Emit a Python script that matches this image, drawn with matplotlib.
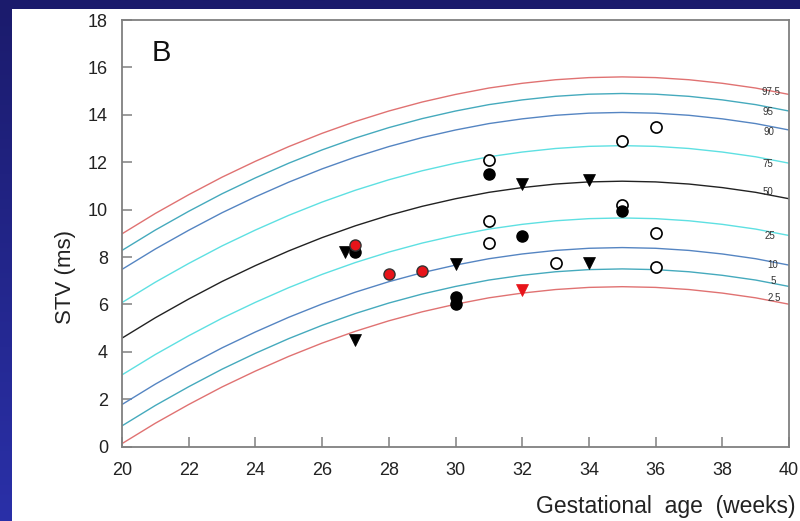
import numpy as np
import matplotlib
matplotlib.use("Agg")
import matplotlib.pyplot as plt
from matplotlib.patches import Rectangle
from matplotlib.colors import LinearSegmentedColormap

plt.rcParams['font.family'] = ['Liberation Sans', 'DejaVu Sans']

weeks = list(range(20, 41))
p975 = [8.98, 9.84, 10.63, 11.37, 12.04, 12.66, 13.22, 13.72, 14.16, 14.54, 14.86, 15.13, 15.33, 15.48, 15.57, 15.6, 15.57, 15.48, 15.33, 15.13, 14.86]
p95 = [8.28, 9.14, 9.93, 10.67, 11.34, 11.96, 12.52, 13.02, 13.46, 13.84, 14.16, 14.43, 14.63, 14.78, 14.87, 14.9, 14.87, 14.78, 14.63, 14.43, 14.16]
p90 = [7.48, 8.34, 9.13, 9.87, 10.54, 11.16, 11.72, 12.22, 12.66, 13.04, 13.36, 13.63, 13.83, 13.98, 14.07, 14.1, 14.07, 13.98, 13.83, 13.63, 13.36]
p75 = [6.08, 6.94, 7.73, 8.47, 9.14, 9.76, 10.32, 10.82, 11.26, 11.64, 11.96, 12.23, 12.43, 12.58, 12.67, 12.7, 12.67, 12.58, 12.43, 12.23, 11.96]
p50 = [4.58, 5.44, 6.23, 6.97, 7.64, 8.26, 8.82, 9.32, 9.76, 10.14, 10.46, 10.73, 10.93, 11.08, 11.17, 11.2, 11.17, 11.08, 10.93, 10.73, 10.46]
p25 = [3.03, 3.89, 4.68, 5.42, 6.09, 6.71, 7.27, 7.77, 8.21, 8.59, 8.91, 9.18, 9.38, 9.53, 9.62, 9.65, 9.62, 9.53, 9.38, 9.18, 8.91]
p10 = [1.78, 2.64, 3.43, 4.17, 4.84, 5.46, 6.02, 6.52, 6.96, 7.34, 7.66, 7.93, 8.13, 8.28, 8.37, 8.4, 8.37, 8.28, 8.13, 7.93, 7.66]
p5 = [0.88, 1.74, 2.53, 3.27, 3.94, 4.56, 5.12, 5.62, 6.06, 6.44, 6.76, 7.03, 7.23, 7.38, 7.47, 7.5, 7.47, 7.38, 7.23, 7.03, 6.76]
p25_low = [0.13, 0.99, 1.78, 2.52, 3.19, 3.81, 4.37, 4.87, 5.31, 5.69, 6.01, 6.28, 6.48, 6.63, 6.72, 6.75, 6.72, 6.63, 6.48, 6.28, 6.01]

pct_labels = ["97.5", "95", "90", "75", "50", "25", "10", "5", "2.5"]
label_x = [39.46, 39.37, 39.40, 39.37, 39.37, 39.43, 39.52, 39.52, 39.55]
label_y = [14.98, 14.14, 13.28, 11.92, 10.76, 8.90, 7.66, 6.99, 6.27]

open_x = [31, 35, 36, 31, 31, 35, 36, 33, 36]
open_y = [12.1, 12.9, 13.5, 9.5, 8.6, 10.2, 9.0, 7.75, 7.6]
filled_x = [31, 35, 32, 27, 30, 30]
filled_y = [11.5, 9.95, 8.9, 8.2, 6.3, 6.0]
red_x = [27, 28, 29]
red_y = [8.5, 7.3, 7.4]
tri_x = [26.7, 27, 30, 32, 34, 34]
tri_y = [8.2, 4.5, 7.7, 11.1, 11.25, 7.75]
redtri_x = [32]
redtri_y = [6.6]

W, H = 800, 521
fig = plt.figure(figsize=(W / 100, H / 100), dpi=100)

# background gradient
bg = fig.add_axes([0, 0, 1, 1])
bg.set_axis_off()
grad = np.linspace(0, 1, 256).reshape(-1, 1)
cmap = LinearSegmentedColormap.from_list("bgc", ["#1b1b6c", "#2a30a8"])
bg.imshow(grad, aspect='auto', cmap=cmap, extent=[0, 1, 0, 1], origin='upper')
bg.add_patch(Rectangle((12 / W, 0), 1, 1 - 9 / H, transform=bg.transAxes,
                       facecolor='white', edgecolor='none'))
bg.set_xlim(0, 1)
bg.set_ylim(0, 1)

ax = fig.add_axes([122 / W, 1 - 446.7 / H, (789 - 122) / W, (446.7 - 20) / H])
ax.set_facecolor('white')

red_c = '#e07272'
teal_c = '#45aabd'
blue_c = '#5585c2'
cyan_c = '#5ee0e2'
curves = [p975, p95, p90, p75, p50, p25, p10, p5, p25_low]
colors = [red_c, teal_c, blue_c, cyan_c, '#222222', cyan_c, blue_c, teal_c, red_c]
for vals, c in zip(curves, colors):
    ax.plot(weeks, vals, color=c, lw=1.0, zorder=2)

for lab, xx, yy in zip(pct_labels, label_x, label_y):
    ax.text(xx, yy, lab, fontsize=7, color='#333333', ha='center', va='center',
            zorder=3)

ms = 8
ax.plot(open_x, open_y, 'o', ms=ms, mfc='white', mec='black', mew=1.2, zorder=4, ls='none')
ax.plot(filled_x, filled_y, 'o', ms=ms, mfc='black', mec='black', mew=1.0, zorder=4, ls='none')
ax.plot(red_x, red_y, 'o', ms=ms, mfc='#e8141a', mec='#333333', mew=1.0, zorder=5, ls='none')
ax.plot(tri_x, tri_y, 'v', ms=ms, mfc='black', mec='black', mew=0.5, zorder=4, ls='none')
ax.plot(redtri_x, redtri_y, 'v', ms=ms, mfc='#e8141a', mec='#e8141a', mew=0.5, zorder=4, ls='none')

ax.set_xlim(20, 40)
ax.set_ylim(0, 18)
ax.set_xticks(range(20, 41, 2))
ax.set_yticks(range(0, 19, 2))
for s in ax.spines.values():
    s.set_color('#808080')
    s.set_linewidth(1.3)
ax.tick_params(axis='both', direction='in', length=7, width=1.1, color='#808080',
               labelsize=13, labelcolor='#222222')
ax.tick_params(axis='x', pad=11)
ax.tick_params(axis='y', pad=10)

ax.text(0.045, 0.9227, "B", transform=ax.transAxes, fontsize=21, color='#111111',
        ha='left', va='center')

fig.text(65 / W, 1 - 277 / H, "STV (ms)", rotation=90, fontsize=16, color='#222222',
         ha='center', va='center')
fig.text(666 / W, 1 - 506 / H, "Gestational  age  (weeks)", fontsize=16.5, color='#222222',
         ha='center', va='center')

fig.savefig("out.png", dpi=100)
